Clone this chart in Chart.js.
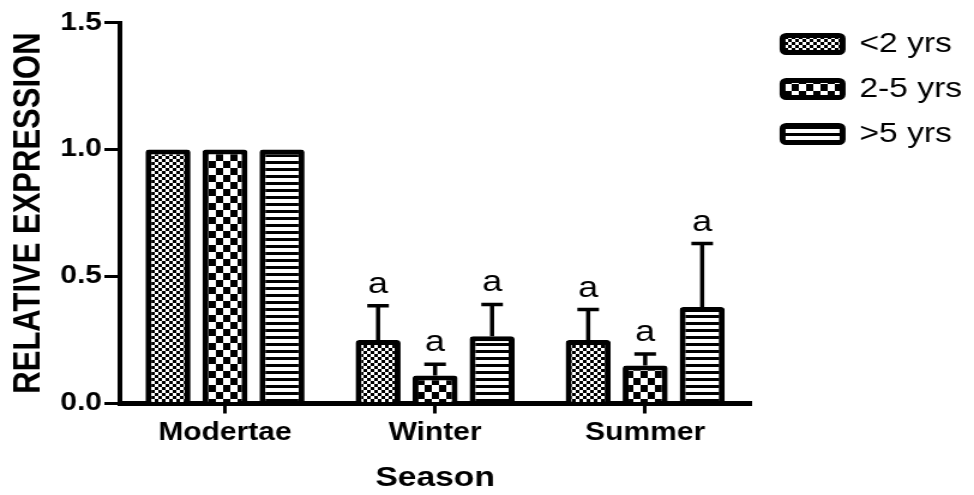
<!DOCTYPE html>
<html>
<head>
<meta charset="utf-8">
<script src="https://cdn.jsdelivr.net/npm/chart.js@4.4.1/dist/chart.umd.min.js"></script>
<style>
  html, body { margin: 0; padding: 0; background: #fff; }
</style>
</head>
<body>
<!-- the plot is drawn narrow and widened by css, like the exported figure -->
<canvas id="chart" width="812" height="495" style="width:974px;height:495px"></canvas>
<script>
const seasons = ['Modertae', 'Winter', 'Summer'];
const ageGroups = ['<2 yrs', '2-5 yrs', '>5 yrs'];

const under2 = [1.0, 0.25, 0.25];
const under2Err = [0, 0.135, 0.12];
const from2to5 = [1.0, 0.11, 0.15];
const from2to5Err = [0, 0.045, 0.045];
const over5 = [1.0, 0.265, 0.38];
const over5Err = [0, 0.125, 0.25];
const sigLetters = ['', 'a', 'a'];

const yTicks = [0, 0.5, 1.0, 1.5];

const FONT = "'Liberation Sans', Arial, sans-serif";
const canvas = document.getElementById('chart');
const ctx = canvas.getContext('2d');

// small black/white tiles used as bar fills
function makePattern(w, h, draw) {
  const tile = document.createElement('canvas');
  tile.width = w;
  tile.height = h;
  const g = tile.getContext('2d');
  g.fillStyle = '#fff';
  g.fillRect(0, 0, w, h);
  g.fillStyle = '#000';
  draw(g);
  return ctx.createPattern(tile, 'repeat');
}

const fineChecks = makePattern(6, 6, g => {
  g.fillRect(0, 0, 3, 3);
  g.fillRect(3, 3, 3, 3);
});
const coarseChecks = makePattern(12, 14, g => {
  g.fillRect(0, 0, 6, 7);
  g.fillRect(6, 7, 6, 7);
});
const hStripes = makePattern(4, 7, g => {
  g.fillRect(0, 0, 4, 3);
});

// upper error bars with the significance letter above the cap
const errorBars = {
  id: 'errorBars',
  afterDatasetsDraw(chart) {
    const { ctx, scales: { y } } = chart;
    ctx.save();
    ctx.strokeStyle = '#000';
    ctx.fillStyle = '#000';
    ctx.lineWidth = 3.5;
    ctx.font = '30px ' + FONT;
    ctx.textAlign = 'center';
    ctx.textBaseline = 'alphabetic';
    chart.data.datasets.forEach((ds, i) => {
      chart.getDatasetMeta(i).data.forEach((bar, j) => {
        const err = ds.errors[j];
        if (!err) return;
        const top = y.getPixelForValue(ds.data[j]);
        const end = y.getPixelForValue(ds.data[j] + err);
        ctx.beginPath();
        ctx.moveTo(bar.x, top);
        ctx.lineTo(bar.x, end);
        ctx.moveTo(bar.x - 9, end);
        ctx.lineTo(bar.x + 9, end);
        ctx.stroke();
        ctx.fillText(ds.letters[j], bar.x, end - 13);
      });
    });
    ctx.restore();
  }
};

new Chart(canvas, {
  type: 'bar',
  data: {
    labels: seasons,
    datasets: [
      { label: ageGroups[0], data: under2, errors: under2Err, letters: sigLetters, backgroundColor: fineChecks },
      { label: ageGroups[1], data: from2to5, errors: from2to5Err, letters: sigLetters, backgroundColor: coarseChecks },
      { label: ageGroups[2], data: over5, errors: over5Err, letters: sigLetters, backgroundColor: hStripes }
    ]
  },
  options: {
    responsive: false,
    animation: false,
    layout: { padding: { top: 13, left: 0, right: 0, bottom: 0 } },
    datasets: {
      bar: {
        borderColor: '#000',
        borderWidth: 5,
        borderRadius: 3,
        categoryPercentage: 0.814,
        barPercentage: 0.79
      }
    },
    plugins: {
      tooltip: { enabled: false },
      legend: {
        position: 'right',
        align: 'start',
        maxWidth: 200,
        labels: {
          color: '#000',
          boxWidth: 50,
          boxHeight: 17,
          padding: 17,
          useBorderRadius: true,
          borderRadius: 3,
          font: { family: FONT, size: 28 }
        }
      }
    },
    scales: {
      x: {
        grid: { offset: false, drawOnChartArea: false, color: '#000', lineWidth: 3, tickLength: 10 },
        border: { color: '#000', width: 5 },
        ticks: { color: '#000', padding: 4.5, font: { family: FONT, size: 25, weight: 'bold' } },
        title: {
          display: true,
          text: 'Season',
          color: '#000',
          font: { family: FONT, size: 28, weight: 'bold' },
          padding: { top: 0, bottom: 0 }
        },
        afterFit(s) { s.height = 91.5; }
      },
      y: {
        min: 0,
        max: 1.5,
        afterBuildTicks(s) { s.ticks = yTicks.map(value => ({ value })); },
        grid: { drawOnChartArea: false, color: '#000', lineWidth: 3, tickLength: 13 },
        border: { color: '#000', width: 4 },
        ticks: {
          color: '#000',
          padding: 2,
          font: { family: FONT, size: 25, weight: 'bold', lineHeight: 1.65 },
          callback: v => v.toFixed(1)
        },
        title: {
          display: true,
          text: 'RELATIVE EXPRESSION',
          color: '#000',
          font: { family: FONT, size: 31, weight: 'bold' },
          padding: { top: 6, bottom: 7 }
        },
        afterFit(s) { s.width = 100; }
      },
      // empty strip between the plot and the legend
      gap: {
        type: 'linear',
        axis: 'y',
        position: 'right',
        grid: { display: false },
        ticks: { display: false },
        border: { display: false },
        afterFit(s) { s.width = 10; }
      }
    }
  },
  plugins: [errorBars]
});
</script>
</body>
</html>
